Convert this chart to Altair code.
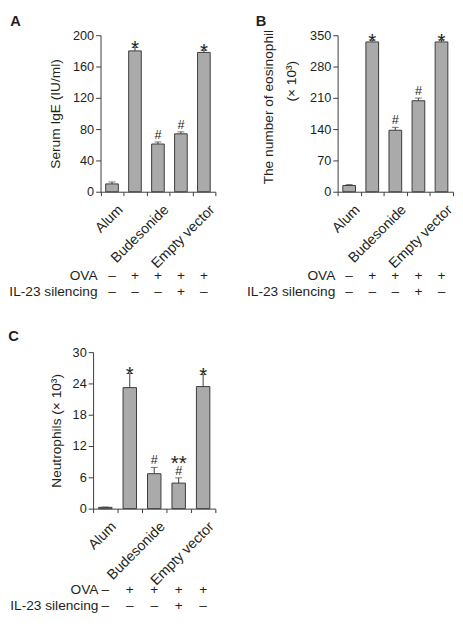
import altair as alt
import pandas as pd

# ---------------- data ----------------
groups = ["Alum", "OVA", "OVA + Budesonide", "OVA + IL-23 silencing", "OVA + Empty vector"]
tick_labels = ["Alum", "", "Budesonide", "", "Empty vector"]
row_labels = ["OVA", "IL-23 silencing"]
ova_signs = ["–", "+", "+", "+", "+"]
il23_signs = ["–", "–", "–", "+", "–"]

ige_mean = [10, 180, 61, 74, 178]
ige_err = [2.5, 4.5, 2.5, 2.5, 3]
ige_marks = ["", "*", "#", "#", "*"]
ige_marks2 = ["", "", "", "", ""]

eos_mean = [14, 335, 137.5, 203.5, 335]
eos_err = [2, 4.5, 6.5, 6, 5]
eos_marks = ["", "*", "#", "#", "*"]
eos_marks2 = ["", "", "", "", ""]

neu_mean = [0.25, 23.2, 6.7, 4.9, 23.4]
neu_err = [0.05, 2.7, 1.2, 1.0, 2.3]
neu_marks = ["", "*", "#", "#", "*"]
neu_marks2 = ["", "", "", "**", ""]

# ---------------- style ----------------
FONT = "Liberation Sans"
INK = "#231f20"
DARK = "#3a3a3a"
FILL = "#aaaaaa"
H = 160

label_expr = "{}[indexof({}, datum.label)]".format(
    "[" + ",".join("'%s'" % t for t in tick_labels) + "]",
    "[" + ",".join("'%s'" % g for g in groups) + "]",
)


def panel(letter, mean, err, marks, marks2, y_title, y_max, y_step, width,
          title_x, title_y=None, x0=0.0, letter_x=-93, letter_y=-21, row_dx=-3,
          ova_dy=86, il_dy=103, extra=None):
    df = pd.DataFrame({
        "group": groups,
        "mean": mean,
        "top": [m + e for m, e in zip(mean, err)],
        "mark": marks,
        "mark2": marks2,
        "ova": ova_signs,
        "il23": il23_signs,
    })
    x = alt.X(
        "group:N", sort=groups,
        scale=alt.Scale(paddingInner=0, paddingOuter=0, range=[x0, width]),
        axis=alt.Axis(
            title=None, labelExpr=label_expr, labelAngle=-45, labelAlign="right",
            labelBaseline="top", labelFont=FONT, labelFontSize=14.5, labelColor=INK,
            labelPadding=7, labelOffset=3.5, tickBand="extent", tickSize=4,
            tickColor=DARK, domainColor=DARK, labelOverlap=False,
        ),
    )
    yscale = alt.Scale(domain=[0, y_max], nice=False)
    tick_vals = list(range(0, y_max + 1, y_step))
    ax_kw = dict(
        title=y_title, values=tick_vals, tickCount=len(tick_vals) + 2, grid=False,
        labelFont=FONT, labelFontSize=13, labelColor=INK, labelPadding=2,
        labelOverlap=False, labelFlush=False, offset=-x0,
        tickSize=5, tickColor=DARK, domainColor=DARK,
        titleFont=FONT, titleFontSize=14, titleFontWeight="normal", titleColor=INK,
        titleBaseline="alphabetic", titleX=title_x,
    )
    if title_y is not None:
        ax_kw["titleY"] = title_y
    yaxis = alt.Axis(**ax_kw)

    base = alt.Chart(df).encode(x=x)
    bars = base.mark_bar(fill=FILL, stroke=DARK, strokeWidth=1,
                         width=alt.RelativeBandSize(0.55)).encode(
        y=alt.Y("mean:Q", scale=yscale, axis=yaxis))
    rule = base.mark_rule(color=DARK, strokeWidth=1).encode(
        y=alt.Y("mean:Q", scale=yscale), y2="top:Q")
    cap = base.mark_tick(color=DARK, thickness=1, size=7).encode(
        y=alt.Y("top:Q", scale=yscale))
    stars = base.transform_filter("datum.mark == '*'").mark_text(
        font=FONT, fontSize=21, color=INK, baseline="alphabetic", dy=8).encode(
        y=alt.Y("top:Q", scale=yscale), text="mark:N")
    hashes = base.transform_filter("datum.mark == '#'").mark_text(
        font=FONT, fontSize=13, color=INK, baseline="alphabetic", dy=-3).encode(
        y=alt.Y("top:Q", scale=yscale), text="mark:N")
    stars2 = base.transform_filter("datum.mark2 != ''").mark_text(
        font=FONT, fontSize=21, color=INK, baseline="alphabetic", dy=-8).encode(
        y=alt.Y("top:Q", scale=yscale), text="mark2:N")
    ova = base.mark_text(font=FONT, fontSize=14, color=INK, baseline="middle").encode(
        text="ova:N", y=alt.value(H + ova_dy))
    il = base.mark_text(font=FONT, fontSize=14, color=INK, baseline="middle").encode(
        text="il23:N", y=alt.value(H + il_dy))

    rl = pd.DataFrame({"t": row_labels})
    ova_lab = alt.Chart(rl).transform_filter("datum.t == 'OVA'").mark_text(
        font=FONT, fontSize=14, color=INK, align="right", baseline="middle").encode(
        text="t:N", x=alt.value(x0 + row_dx), y=alt.value(H + ova_dy))
    il_lab = alt.Chart(rl).transform_filter("datum.t != 'OVA'").mark_text(
        font=FONT, fontSize=14, color=INK, align="right", baseline="middle").encode(
        text="t:N", x=alt.value(x0 + row_dx), y=alt.value(H + il_dy))

    let = alt.Chart(pd.DataFrame({"t": [letter]})).mark_text(
        font=FONT, fontSize=15, fontWeight="bold", color=INK,
        align="left", baseline="top").encode(
        text="t:N", x=alt.value(x0 + letter_x), y=alt.value(letter_y))

    layers = [bars, rule, cap, stars, hashes, stars2, ova, il, ova_lab, il_lab, let]
    if extra is not None:
        txt, ex, ey = extra
        layers.append(alt.Chart(pd.DataFrame({"t": [txt]})).mark_text(
            font=FONT, fontSize=14, color=INK, angle=270,
            align="center", baseline="alphabetic").encode(
            text="t:N", x=alt.value(x0 + ex), y=alt.value(ey)))
    return alt.layer(*layers).properties(width=width, height=H)


# A sits 7.6 px to the right of C's left edge inside the shared 125 px column
pA = panel("A", ige_mean, ige_err, ige_marks, ige_marks2, "Serum IgE (IU/ml)",
           200, 40, 125, title_x=-41.5, x0=7.6, letter_x=-92.3)
pB = panel("B", eos_mean, eos_err, eos_marks, eos_marks2, "The number of eosinophil",
           350, 70, 118, title_x=-67, title_y=73, letter_x=-83.7, row_dx=-2.4,
           extra=("(× 10³)", -43, 47))
pC = panel("C", neu_mean, neu_err, neu_marks, neu_marks2, "Neutrophils (× 10³)",
           30, 6, 125, title_x=-33, letter_x=-86.7, letter_y=-23, row_dx=5.5,
           ova_dy=83, il_dy=100)

chart = alt.concat(
    pA, pB, pC, columns=2, bounds="flush",
    spacing={"row": 164, "column": 125},
).properties(padding=0).configure_view(stroke=None)

chart.save("out.html", embed_options={"renderer": "svg", "actions": False})
